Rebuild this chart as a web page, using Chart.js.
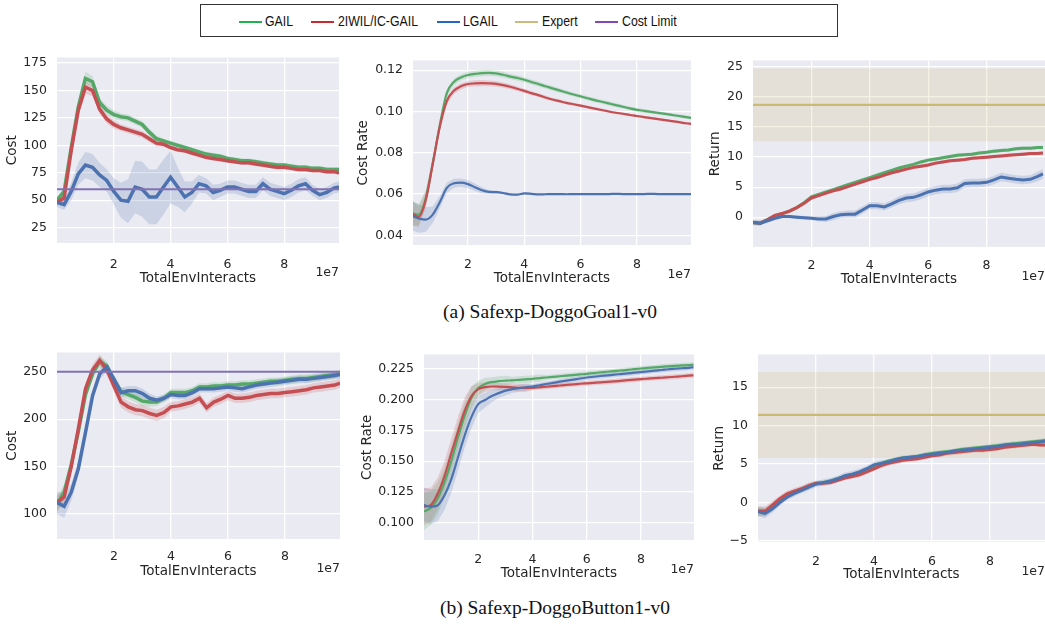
<!DOCTYPE html>
<html lang="en">
<head>
<meta charset="UTF-8">
<title>Safexp Doggo learning curves</title>
<script src="https://cdn.jsdelivr.net/npm/chart.js@4.4.0/dist/chart.umd.min.js"></script>
<style>
  body { margin: 0; width: 1045px; height: 624px; overflow: hidden; background: #fff; position: relative; }
  canvas { position: absolute; }
  .legend { position: absolute; left: 200px; top: 4px; width: 636px; height: 31px; border: 1.5px solid #333; }
  .key { position: absolute; top: 16px; width: 23px; height: 2px; }
  .lab { position: absolute; top: 7px; font: 15px "Liberation Sans", Arial, sans-serif; color: #111;
         transform: scaleX(0.82); transform-origin: left center; white-space: nowrap; }
  .caption { position: absolute; width: 400px; text-align: center; font: 19.5px "Liberation Serif", "Times New Roman", serif;
             color: #111; line-height: 22px; }
</style>
</head>
<body>

<div class="legend">
  <div class="key" style="left:38px;background:#22b24c"></div><span class="lab" style="left:64px">GAIL</span>
  <div class="key" style="left:110px;background:#cc2a2a"></div><span class="lab" style="left:137px">2IWIL/IC-GAIL</span>
  <div class="key" style="left:236px;background:#2464cc"></div><span class="lab" style="left:262px">LGAIL</span>
  <div class="key" style="left:314px;background:#cdbb7c"></div><span class="lab" style="left:341px">Expert</span>
  <div class="key" style="left:394px;background:#8447b4"></div><span class="lab" style="left:421px">Cost Limit</span>
</div>

<canvas id="goalCost"></canvas>
<canvas id="goalRate"></canvas>
<canvas id="goalRet"></canvas>
<canvas id="buttonCost"></canvas>
<canvas id="buttonRate"></canvas>
<canvas id="buttonRet"></canvas>

<div class="caption" style="left:350px;top:301px">(a) Safexp-DoggoGoal1-v0</div>
<div class="caption" style="left:355px;top:597px">(b) Safexp-DoggoButton1-v0</div>

<script>
// x positions, in units of 1e7 interactions
const steps = [0, 0.25, 0.5, 0.75, 1, 1.25, 1.5, 1.75, 2, 2.25, 2.5, 2.75, 3, 3.25, 3.5, 3.75, 4, 4.25, 4.5, 4.75,
  5, 5.25, 5.5, 5.75, 6, 6.25, 6.5, 6.75, 7, 7.25, 7.5, 7.75, 8, 8.25, 8.5, 8.75, 9, 9.25, 9.5, 9.75, 9.93];
const xTicks = [2, 4, 6, 8];

// (a) DoggoGoal1 - cost
const goalCostGail = [50, 58, 98, 135, 161, 158, 139, 132, 128, 126, 125, 122, 119, 112, 106, 104, 102, 100, 98, 96,
  94, 92, 91, 90, 88, 87, 86, 86, 85, 84, 83, 82, 82, 81, 80, 80, 79, 79, 78, 78, 78];
const goalCost2iwil = [48, 52, 95, 132, 153, 150, 133, 124, 119, 116, 114, 112, 110, 106, 102, 101, 98, 96, 95, 93,
  91, 89, 88, 87, 86, 85, 84, 84, 83, 82, 81, 80, 80, 79, 78, 78, 77, 77, 76, 76, 75];
const goalCostLgail = [48, 46, 58, 74, 82, 80, 73, 68, 58, 50, 49, 62, 60, 53, 53, 62, 71, 62, 53, 57,
  65, 63, 57, 59, 62, 62, 60, 58, 58, 65, 60, 58, 56, 59, 63, 65, 59, 55, 57, 61, 62];
const goalCostGailSd = [3, 3, 4, 5, 6, 5, 4, 4, 4, 3, 3, 3, 3, 3, 3, 2, 2, 2, 2, 2,
  2, 2, 2, 2, 2, 2, 2, 2, 2, 2, 2, 2, 2, 2, 2, 2, 2, 2, 2, 2, 2];
const goalCost2iwilSd = [3, 3, 4, 5, 6, 5, 4, 4, 4, 3, 3, 3, 3, 3, 3, 2, 2, 2, 2, 2,
  2, 2, 2, 2, 2, 2, 2, 2, 2, 2, 2, 2, 2, 2, 2, 2, 2, 2, 2, 2, 2];
const goalCostLgailSd = [4, 5, 8, 10, 12, 12, 11, 10, 12, 16, 20, 24, 25, 25, 25, 25, 24, 18, 14, 10,
  8, 7, 7, 6, 6, 6, 6, 6, 6, 6, 6, 6, 6, 6, 6, 6, 5, 5, 5, 5, 5];
const goalCostLimit = 60;
const goalCostTicks = [25, 50, 75, 100, 125, 150, 175];

// (a) DoggoGoal1 - cost rate
const goalRateGail = [0.0508, 0.0500, 0.0578, 0.0748, 0.0934, 0.1089, 0.1143, 0.1165, 0.1177, 0.1182, 0.1186, 0.1187,
  0.1185, 0.1178, 0.1169, 0.1162, 0.1154, 0.1143, 0.1133, 0.1122, 0.1112, 0.1102, 0.1092, 0.1082, 0.1073, 0.1064,
  0.1055, 0.1047, 0.1039, 0.1031, 0.1023, 0.1015, 0.1008, 0.1003, 0.0998, 0.0993, 0.0988, 0.0983, 0.0978, 0.0973, 0.0969];
const goalRate2iwil = [0.0508, 0.0490, 0.0570, 0.0745, 0.0925, 0.1050, 0.1100, 0.1122, 0.1133, 0.1136, 0.1137, 0.1136,
  0.1134, 0.1128, 0.1120, 0.1110, 0.1100, 0.1089, 0.1079, 0.1068, 0.1058, 0.1050, 0.1042, 0.1035, 0.1028, 0.1021,
  0.1014, 0.1007, 0.1000, 0.0994, 0.0989, 0.0983, 0.0978, 0.0973, 0.0968, 0.0963, 0.0958, 0.0953, 0.0948, 0.0943, 0.0940];
const goalRateLgail = [0.0495, 0.0482, 0.0476, 0.0500, 0.0560, 0.0630, 0.0652, 0.0655, 0.0648, 0.0633, 0.0618, 0.0610,
  0.0609, 0.0605, 0.0598, 0.0597, 0.0603, 0.0601, 0.0598, 0.0599, 0.0600, 0.0600, 0.0599, 0.0600, 0.0600, 0.0600,
  0.0600, 0.0600, 0.0600, 0.0601, 0.0600, 0.0600, 0.0600, 0.0600, 0.0601, 0.0600, 0.0600, 0.0600, 0.0600, 0.0600, 0.0600];
const goalRateGailSd = [0.006, 0.005, 0.004, 0.003, 0.002, 0.0018, 0.0016, 0.0015, 0.0015, 0.0015, 0.0015, 0.0015,
  0.0014, 0.0014, 0.0013, 0.0013, 0.0012, 0.0012, 0.0012, 0.0011, 0.0011, 0.0011, 0.001, 0.001, 0.001, 0.001,
  0.001, 0.001, 0.001, 0.0009, 0.0009, 0.0009, 0.0009, 0.0009, 0.0008, 0.0008, 0.0008, 0.0008, 0.0008, 0.0008, 0.0008];
const goalRate2iwilSd = [0.006, 0.005, 0.004, 0.003, 0.002, 0.0018, 0.0016, 0.0015, 0.0015, 0.0015, 0.0015, 0.0014,
  0.0014, 0.0013, 0.0012, 0.0011, 0.001, 0.001, 0.0009, 0.0009, 0.0008, 0.0008, 0.0008, 0.0007, 0.0007, 0.0007,
  0.0007, 0.0007, 0.0006, 0.0006, 0.0006, 0.0006, 0.0006, 0.0006, 0.0006, 0.0006, 0.0006, 0.0006, 0.0006, 0.0006, 0.0006];
const goalRateLgailSd = [0.007, 0.007, 0.006, 0.004, 0.003, 0.0025, 0.0022, 0.002, 0.002, 0.0018, 0.0015, 0.001,
  0.0008, 0.0006, 0.0005, 0.0005, 0.0004, 0.0004, 0.0004, 0.0003, 0.0003, 0.0003, 0.0003, 0.0003, 0.0003, 0.0003,
  0.0003, 0.0003, 0.0003, 0.0003, 0.0003, 0.0003, 0.0003, 0.0003, 0.0003, 0.0003, 0.0003, 0.0003, 0.0003, 0.0003, 0.0003];
const goalRateTicks = [0.04, 0.06, 0.08, 0.10, 0.12];

// (a) DoggoGoal1 - return
const goalRetGail = [-0.9, -1.0, -0.4, 0.2, 0.6, 1.0, 1.6, 2.4, 3.4, 3.8, 4.2, 4.6, 5.0, 5.4, 5.8, 6.2, 6.6, 7.0, 7.4, 7.8,
  8.2, 8.5, 8.8, 9.2, 9.5, 9.7, 9.9, 10.1, 10.3, 10.4, 10.5, 10.7, 10.8, 11.0, 11.1, 11.2, 11.4, 11.5, 11.5, 11.6, 11.6];
const goalRet2iwil = [-0.9, -1.0, -0.4, 0.3, 0.6, 1.0, 1.6, 2.3, 3.2, 3.6, 4.0, 4.4, 4.7, 5.1, 5.5, 5.9, 6.3, 6.6, 7.0, 7.4,
  7.7, 8.0, 8.3, 8.5, 8.7, 9.0, 9.2, 9.4, 9.5, 9.6, 9.8, 9.9, 10.0, 10.1, 10.2, 10.3, 10.4, 10.5, 10.6, 10.6, 10.7];
const goalRetLgail = [-0.9, -1.0, -0.6, -0.2, 0.1, 0.1, 0.0, -0.1, -0.2, -0.3, -0.3, 0.1, 0.4, 0.5, 0.5, 1.2, 1.9, 1.9, 1.7, 2.2,
  2.8, 3.2, 3.3, 3.7, 4.2, 4.5, 4.7, 4.7, 4.9, 5.6, 5.7, 5.7, 5.8, 6.2, 6.7, 6.5, 6.3, 6.2, 6.3, 6.8, 7.2];
const goalRetGailSd = [0.4, 0.4, 0.3, 0.3, 0.3, 0.3, 0.3, 0.3, 0.3, 0.3, 0.3, 0.3, 0.3, 0.3, 0.3, 0.3, 0.3, 0.3, 0.3, 0.3,
  0.3, 0.3, 0.3, 0.3, 0.3, 0.3, 0.3, 0.3, 0.3, 0.3, 0.3, 0.3, 0.3, 0.3, 0.3, 0.3, 0.3, 0.3, 0.3, 0.3, 0.3];
const goalRet2iwilSd = [0.4, 0.4, 0.3, 0.3, 0.3, 0.3, 0.3, 0.3, 0.3, 0.3, 0.3, 0.3, 0.3, 0.3, 0.3, 0.3, 0.3, 0.3, 0.3, 0.3,
  0.3, 0.3, 0.3, 0.3, 0.3, 0.3, 0.3, 0.3, 0.3, 0.3, 0.3, 0.3, 0.3, 0.3, 0.3, 0.3, 0.3, 0.3, 0.3, 0.3, 0.3];
const goalRetLgailSd = [0.4, 0.4, 0.3, 0.3, 0.3, 0.3, 0.3, 0.3, 0.3, 0.4, 0.5, 0.6, 0.6, 0.6, 0.6, 0.6, 0.6, 0.6, 0.6, 0.6,
  0.7, 0.7, 0.7, 0.7, 0.7, 0.7, 0.7, 0.7, 0.7, 0.7, 0.7, 0.7, 0.7, 0.7, 0.7, 0.7, 0.7, 0.7, 0.7, 0.8, 0.8];
const goalExpert = 18.7;
const goalExpertSd = 6.05;
const goalRetTicks = [0, 5, 10, 15, 20, 25];

// (b) DoggoButton1 - cost
const buttonCostGail = [110, 123, 152, 187, 226, 248, 261, 256, 241, 229, 226, 223, 219, 218, 218, 222, 228, 228, 228, 230,
  234, 234, 235, 235, 236, 236, 237, 237, 238, 239, 240, 240, 241, 242, 243, 243, 244, 245, 246, 247, 248];
const buttonCost2iwil = [112, 118, 150, 190, 232, 252, 262, 252, 235, 218, 213, 210, 209, 206, 204, 207, 213, 214, 216, 218,
  222, 212, 218, 221, 225, 222, 222, 223, 225, 226, 227, 227, 228, 229, 230, 231, 233, 234, 235, 236, 238];
const buttonCostLgail = [112, 108, 123, 148, 186, 225, 248, 255, 242, 228, 230, 230, 227, 222, 220, 222, 226, 225, 225, 228,
  232, 232, 232, 233, 234, 233, 232, 234, 236, 237, 238, 239, 240, 241, 242, 242, 243, 244, 245, 246, 247];
const buttonCostGailSd = [8, 8, 7, 6, 6, 6, 6, 5, 5, 5, 5, 5, 5, 5, 4, 4, 4, 4, 4, 4,
  4, 4, 4, 4, 4, 4, 4, 4, 4, 4, 4, 4, 4, 4, 4, 4, 4, 4, 4, 4, 4];
const buttonCost2iwilSd = [8, 8, 7, 6, 6, 6, 6, 6, 6, 6, 6, 6, 6, 6, 6, 6, 5, 5, 5, 5,
  5, 5, 5, 5, 5, 5, 5, 5, 5, 5, 5, 5, 5, 5, 5, 5, 5, 5, 5, 5, 5];
const buttonCostLgailSd = [12, 12, 9, 8, 7, 6, 6, 5, 5, 5, 5, 5, 5, 5, 4, 4, 4, 4, 4, 4,
  4, 4, 4, 4, 4, 4, 4, 4, 4, 4, 4, 4, 4, 4, 4, 4, 4, 4, 4, 4, 4];
const buttonCostLimit = 250;
const buttonCostTicks = [100, 150, 200, 250];

// (b) DoggoButton1 - cost rate
const buttonRateGail = [0.109, 0.112, 0.1195, 0.1325, 0.1495, 0.169, 0.187, 0.2016, 0.2094, 0.2128, 0.2143, 0.2150,
  0.2154, 0.2157, 0.2161, 0.2165, 0.2169, 0.2175, 0.2180, 0.2185, 0.2190, 0.2195, 0.2200, 0.2205, 0.2210, 0.2216,
  0.2221, 0.2227, 0.2232, 0.2237, 0.2242, 0.2248, 0.2253, 0.2258, 0.2262, 0.2267, 0.2271, 0.2275, 0.2278, 0.2281, 0.2284];
const buttonRate2iwil = [0.113, 0.1143, 0.1234, 0.1377, 0.156, 0.174, 0.191, 0.2029, 0.2086, 0.2102, 0.2107, 0.2106,
  0.2104, 0.2100, 0.2096, 0.2095, 0.2096, 0.2100, 0.2105, 0.2110, 0.2115, 0.2120, 0.2124, 0.2129, 0.2133, 0.2137,
  0.2141, 0.2144, 0.2148, 0.2153, 0.2158, 0.2162, 0.2167, 0.2171, 0.2175, 0.2178, 0.2182, 0.2186, 0.2190, 0.2195, 0.2198];
const buttonRateLgail = [0.1143, 0.113, 0.114, 0.122, 0.135, 0.153, 0.171, 0.186, 0.1964, 0.1997, 0.2029, 0.2053,
  0.2073, 0.2085, 0.2094, 0.2101, 0.2107, 0.2117, 0.2127, 0.2136, 0.2146, 0.2155, 0.2163, 0.2172, 0.2180, 0.2186,
  0.2192, 0.2197, 0.2203, 0.2208, 0.2213, 0.2219, 0.2224, 0.2230, 0.2236, 0.2241, 0.2247, 0.2251, 0.2255, 0.2259, 0.2263];
const buttonRateGailSd = [0.015, 0.014, 0.013, 0.012, 0.012, 0.012, 0.011, 0.009, 0.006, 0.005, 0.004, 0.004,
  0.004, 0.003, 0.003, 0.003, 0.003, 0.003, 0.002, 0.002, 0.002, 0.002, 0.002, 0.002, 0.002, 0.002,
  0.002, 0.002, 0.002, 0.002, 0.002, 0.002, 0.002, 0.002, 0.002, 0.002, 0.002, 0.002, 0.002, 0.002, 0.002];
const buttonRate2iwilSd = [0.015, 0.014, 0.013, 0.012, 0.012, 0.012, 0.011, 0.008, 0.005, 0.004, 0.003, 0.003,
  0.003, 0.003, 0.003, 0.003, 0.002, 0.002, 0.002, 0.002, 0.002, 0.002, 0.002, 0.002, 0.002, 0.002,
  0.002, 0.002, 0.002, 0.002, 0.002, 0.002, 0.002, 0.002, 0.002, 0.002, 0.002, 0.002, 0.002, 0.002, 0.002];
const buttonRateLgailSd = [0.014, 0.014, 0.013, 0.012, 0.011, 0.011, 0.010, 0.009, 0.007, 0.006, 0.005, 0.004,
  0.004, 0.003, 0.003, 0.003, 0.002, 0.002, 0.002, 0.002, 0.002, 0.002, 0.002, 0.002, 0.002, 0.002,
  0.002, 0.002, 0.002, 0.002, 0.002, 0.002, 0.002, 0.002, 0.002, 0.002, 0.002, 0.002, 0.002, 0.002, 0.002];
const buttonRateTicks = [0.100, 0.125, 0.150, 0.175, 0.200, 0.225];

// (b) DoggoButton1 - return
const buttonRetGail = [-1.1, -1.2, -0.6, 0.2, 0.9, 1.3, 1.7, 2.1, 2.5, 2.6, 2.8, 3.1, 3.4, 3.6, 3.9, 4.3, 4.8, 5.1, 5.4, 5.6,
  5.8, 5.9, 6.0, 6.2, 6.4, 6.5, 6.6, 6.7, 6.9, 7.0, 7.1, 7.2, 7.3, 7.4, 7.5, 7.6, 7.7, 7.8, 7.9, 8.0, 8.1];
const buttonRet2iwil = [-1.1, -1.1, -0.3, 0.5, 1.15, 1.5, 1.8, 2.2, 2.5, 2.5, 2.6, 2.9, 3.2, 3.4, 3.6, 4.0, 4.4, 4.8, 5.1, 5.3,
  5.5, 5.6, 5.7, 5.9, 6.1, 6.2, 6.4, 6.5, 6.6, 6.7, 6.8, 6.8, 6.9, 7.0, 7.2, 7.3, 7.4, 7.5, 7.6, 7.5, 7.5];
const buttonRetLgail = [-1.2, -1.4, -0.8, 0.0, 0.7, 1.2, 1.6, 2.0, 2.4, 2.6, 2.8, 3.1, 3.5, 3.7, 4.0, 4.4, 4.9, 5.1, 5.3, 5.6,
  5.8, 5.9, 6.0, 6.2, 6.3, 6.4, 6.5, 6.7, 6.8, 6.9, 7.0, 7.1, 7.2, 7.3, 7.5, 7.6, 7.6, 7.7, 7.8, 7.9, 8.0];
const buttonRetGailSd = [0.6, 0.6, 0.5, 0.4, 0.4, 0.4, 0.4, 0.4, 0.3, 0.3, 0.3, 0.3, 0.3, 0.3, 0.3, 0.3, 0.3, 0.3, 0.3, 0.3,
  0.3, 0.3, 0.3, 0.3, 0.3, 0.3, 0.3, 0.3, 0.3, 0.3, 0.3, 0.3, 0.3, 0.3, 0.3, 0.3, 0.3, 0.3, 0.3, 0.3, 0.3];
const buttonRet2iwilSd = [0.6, 0.6, 0.5, 0.4, 0.4, 0.4, 0.4, 0.4, 0.3, 0.3, 0.3, 0.3, 0.3, 0.3, 0.3, 0.3, 0.3, 0.3, 0.3, 0.3,
  0.3, 0.3, 0.3, 0.3, 0.3, 0.3, 0.3, 0.3, 0.3, 0.3, 0.3, 0.3, 0.3, 0.3, 0.3, 0.3, 0.3, 0.3, 0.3, 0.3, 0.3];
const buttonRetLgailSd = [0.6, 0.6, 0.5, 0.4, 0.4, 0.4, 0.4, 0.4, 0.4, 0.4, 0.4, 0.4, 0.4, 0.4, 0.4, 0.4, 0.4, 0.4, 0.3, 0.3,
  0.3, 0.3, 0.3, 0.3, 0.3, 0.3, 0.3, 0.3, 0.3, 0.3, 0.3, 0.3, 0.3, 0.3, 0.3, 0.3, 0.3, 0.3, 0.3, 0.3, 0.3];
const buttonExpert = 11.4;
const buttonExpertSd = 5.6;
const buttonRetTicks = [-5, 0, 5, 10, 15];

// seaborn "deep" colours
const GREEN = '85,168,104', RED = '196,78,82', BLUE = '76,114,176', PURPLE = '129,114,178', GOLD = '204,185,116';
const INK = '#262626';

const panelBg = {
  id: 'panelBg',
  beforeDraw(chart) {
    const a = chart.chartArea, ctx = chart.ctx;
    ctx.save();
    ctx.fillStyle = '#EAEAF2';
    ctx.fillRect(a.left, a.top, a.right - a.left, a.bottom - a.top);
    ctx.restore();
  }
};

const sciLabel = {
  id: 'sciLabel',
  afterDraw(chart) {
    const a = chart.chartArea, ctx = chart.ctx;
    ctx.save();
    ctx.font = '12.5px "DejaVu Sans"';
    ctx.fillStyle = INK;
    ctx.textAlign = 'right';
    ctx.textBaseline = 'middle';
    ctx.fillText('1e7', a.right, a.bottom + 30);
    ctx.restore();
  }
};

function fmt(v, d) {
  return v < 0 ? '\u2212' + Math.abs(v).toFixed(d) : v.toFixed(d);
}

function drawPanel(p) {
  const cv = document.getElementById(p.id);
  const padTop = 10, padR = 10;
  cv.width = p.yW + (p.R - p.L) + padR;
  cv.height = padTop + (p.B - p.T) + p.xH;
  cv.style.left = (p.L - p.yW) + 'px';
  cv.style.top = (p.T - padTop) + 'px';

  const datasets = [];
  // shaded spread first, lines on top
  p.series.forEach(([mean, sd, rgb]) => {
    datasets.push({
      data: steps.map((x, i) => ({x, y: mean[i] + sd[i]})),
      borderWidth: 0, fill: false, order: 10
    });
    datasets.push({
      data: steps.map((x, i) => ({x, y: mean[i] - sd[i]})),
      borderWidth: 0, fill: '-1', backgroundColor: 'rgba(' + rgb + ',0.2)', order: 10
    });
  });
  if (p.expert !== undefined) {
    const ends = [steps[0], steps[steps.length - 1] + 0.5];
    datasets.push({data: ends.map(x => ({x, y: p.expert + p.expertSd})), borderWidth: 0, fill: false, order: 11});
    datasets.push({data: ends.map(x => ({x, y: p.expert - p.expertSd})), borderWidth: 0, fill: '-1',
      backgroundColor: 'rgba(' + GOLD + ',0.2)', order: 11});
    datasets.push({data: ends.map(x => ({x, y: p.expert})), borderColor: 'rgb(' + GOLD + ')', borderWidth: 2.2, order: 0});
  }
  p.series.forEach(([mean, sd, rgb], k) => {
    datasets.push({
      data: steps.map((x, i) => ({x, y: mean[i]})),
      borderColor: 'rgb(' + rgb + ')', borderWidth: p.lw, fill: false, order: 3 - k,
      tension: 0, cubicInterpolationMode: p.smooth ? 'monotone' : 'default'
    });
  });
  if (p.limit !== undefined) {
    const ends = [steps[0], steps[steps.length - 1] + 0.5];
    datasets.push({data: ends.map(x => ({x, y: p.limit})), borderColor: 'rgb(' + PURPLE + ')', borderWidth: 2, order: 0});
  }

  new Chart(cv, {
    type: 'line',
    data: {datasets},
    options: {
      responsive: false, animation: false, devicePixelRatio: 1,
      layout: {padding: {top: padTop, right: padR, left: 0, bottom: 0}},
      elements: {point: {radius: 0}},
      plugins: {legend: {display: false}, tooltip: {enabled: false}},
      scales: {
        x: {
          type: 'linear', min: p.xMin, max: p.xMax,
          afterBuildTicks: s => { s.ticks = xTicks.map(v => ({value: v})); },
          afterFit: s => { s.height = p.xH; },
          grid: {color: '#ffffff', lineWidth: 1.3, drawTicks: false},
          border: {display: false},
          ticks: {color: INK, font: {family: 'DejaVu Sans', size: 12.5}, padding: p.xPad, maxRotation: 0,
            callback: v => String(v)},
          title: {display: true, text: 'TotalEnvInteracts', color: INK, padding: 0,
            font: {family: 'DejaVu Sans', size: 13.5}}
        },
        y: {
          type: 'linear', min: p.yMin, max: p.yMax,
          afterBuildTicks: s => { s.ticks = p.yTicks.map(v => ({value: v})); },
          afterFit: s => { s.width = p.yW; },
          grid: {color: '#ffffff', lineWidth: 1.3, drawTicks: false},
          border: {display: false},
          ticks: {color: INK, font: {family: 'DejaVu Sans', size: 12.5}, padding: 10,
            callback: v => fmt(v, p.digits)},
          title: {display: true, text: p.yTitle, color: INK, padding: 0,
            font: {family: 'DejaVu Sans', size: 13.5}}
        }
      }
    },
    plugins: [panelBg, sciLabel]
  });
}

const panels = [
  {id: 'goalCost', L: 57, T: 50, R: 339, B: 243, yW: 53, xH: 44, xPad: 14, xMin: 0, xMax: 9.93, yMin: 11, yMax: 180,
    yTicks: goalCostTicks, digits: 0, yTitle: 'Cost', lw: 3.5, smooth: false, limit: goalCostLimit,
    series: [[goalCostGail, goalCostGailSd, GREEN], [goalCost2iwil, goalCost2iwilSd, RED], [goalCostLgail, goalCostLgailSd, BLUE]]},
  {id: 'goalRate', L: 413, T: 53, R: 691, B: 245, yW: 58, xH: 42, xPad: 12, xMin: 0.05, xMax: 9.92, yMin: 0.0353, yMax: 0.1247,
    yTicks: goalRateTicks, digits: 2, yTitle: 'Cost Rate', lw: 2.2, smooth: true,
    series: [[goalRateGail, goalRateGailSd, GREEN], [goalRate2iwil, goalRate2iwilSd, RED], [goalRateLgail, goalRateLgailSd, BLUE]]},
  {id: 'goalRet', L: 753, T: 53, R: 1045, B: 247, yW: 46, xH: 41, xPad: 11, xMin: 0, xMax: 10.0, yMin: -4.97, yMax: 26.1,
    yTicks: goalRetTicks, digits: 0, yTitle: 'Return', lw: 3, smooth: false, expert: goalExpert, expertSd: goalExpertSd,
    series: [[goalRetGail, goalRetGailSd, GREEN], [goalRet2iwil, goalRet2iwilSd, RED], [goalRetLgail, goalRetLgailSd, BLUE]]},
  {id: 'buttonCost', L: 57, T: 345, R: 340, B: 539, yW: 53, xH: 41, xPad: 10, xMin: 0, xMax: 9.93, yMin: 73.6, yMax: 270.3,
    yTicks: buttonCostTicks, digits: 0, yTitle: 'Cost', lw: 3.5, smooth: false, limit: buttonCostLimit,
    series: [[buttonCostGail, buttonCostGailSd, GREEN], [buttonCost2iwil, buttonCost2iwilSd, RED], [buttonCostLgail, buttonCostLgailSd, BLUE]]},
  {id: 'buttonRate', L: 424, T: 347, R: 694, B: 540, yW: 65, xH: 42, xPad: 12, xMin: 0, xMax: 9.95, yMin: 0.0859, yMax: 0.2367,
    yTicks: buttonRateTicks, digits: 3, yTitle: 'Cost Rate', lw: 2.2, smooth: true,
    series: [[buttonRateGail, buttonRateGailSd, GREEN], [buttonRate2iwil, buttonRate2iwilSd, RED], [buttonRateLgail, buttonRateLgailSd, BLUE]]},
  {id: 'buttonRet', L: 758, T: 347, R: 1045, B: 542, yW: 47, xH: 41, xPad: 12, xMin: 0, xMax: 9.9, yMin: -5.12, yMax: 19.25,
    yTicks: buttonRetTicks, digits: 0, yTitle: 'Return', lw: 3, smooth: false, expert: buttonExpert, expertSd: buttonExpertSd,
    series: [[buttonRetGail, buttonRetGailSd, GREEN], [buttonRet2iwil, buttonRet2iwilSd, RED], [buttonRetLgail, buttonRetLgailSd, BLUE]]}
];

panels.forEach(drawPanel);
</script>
</body>
</html>
